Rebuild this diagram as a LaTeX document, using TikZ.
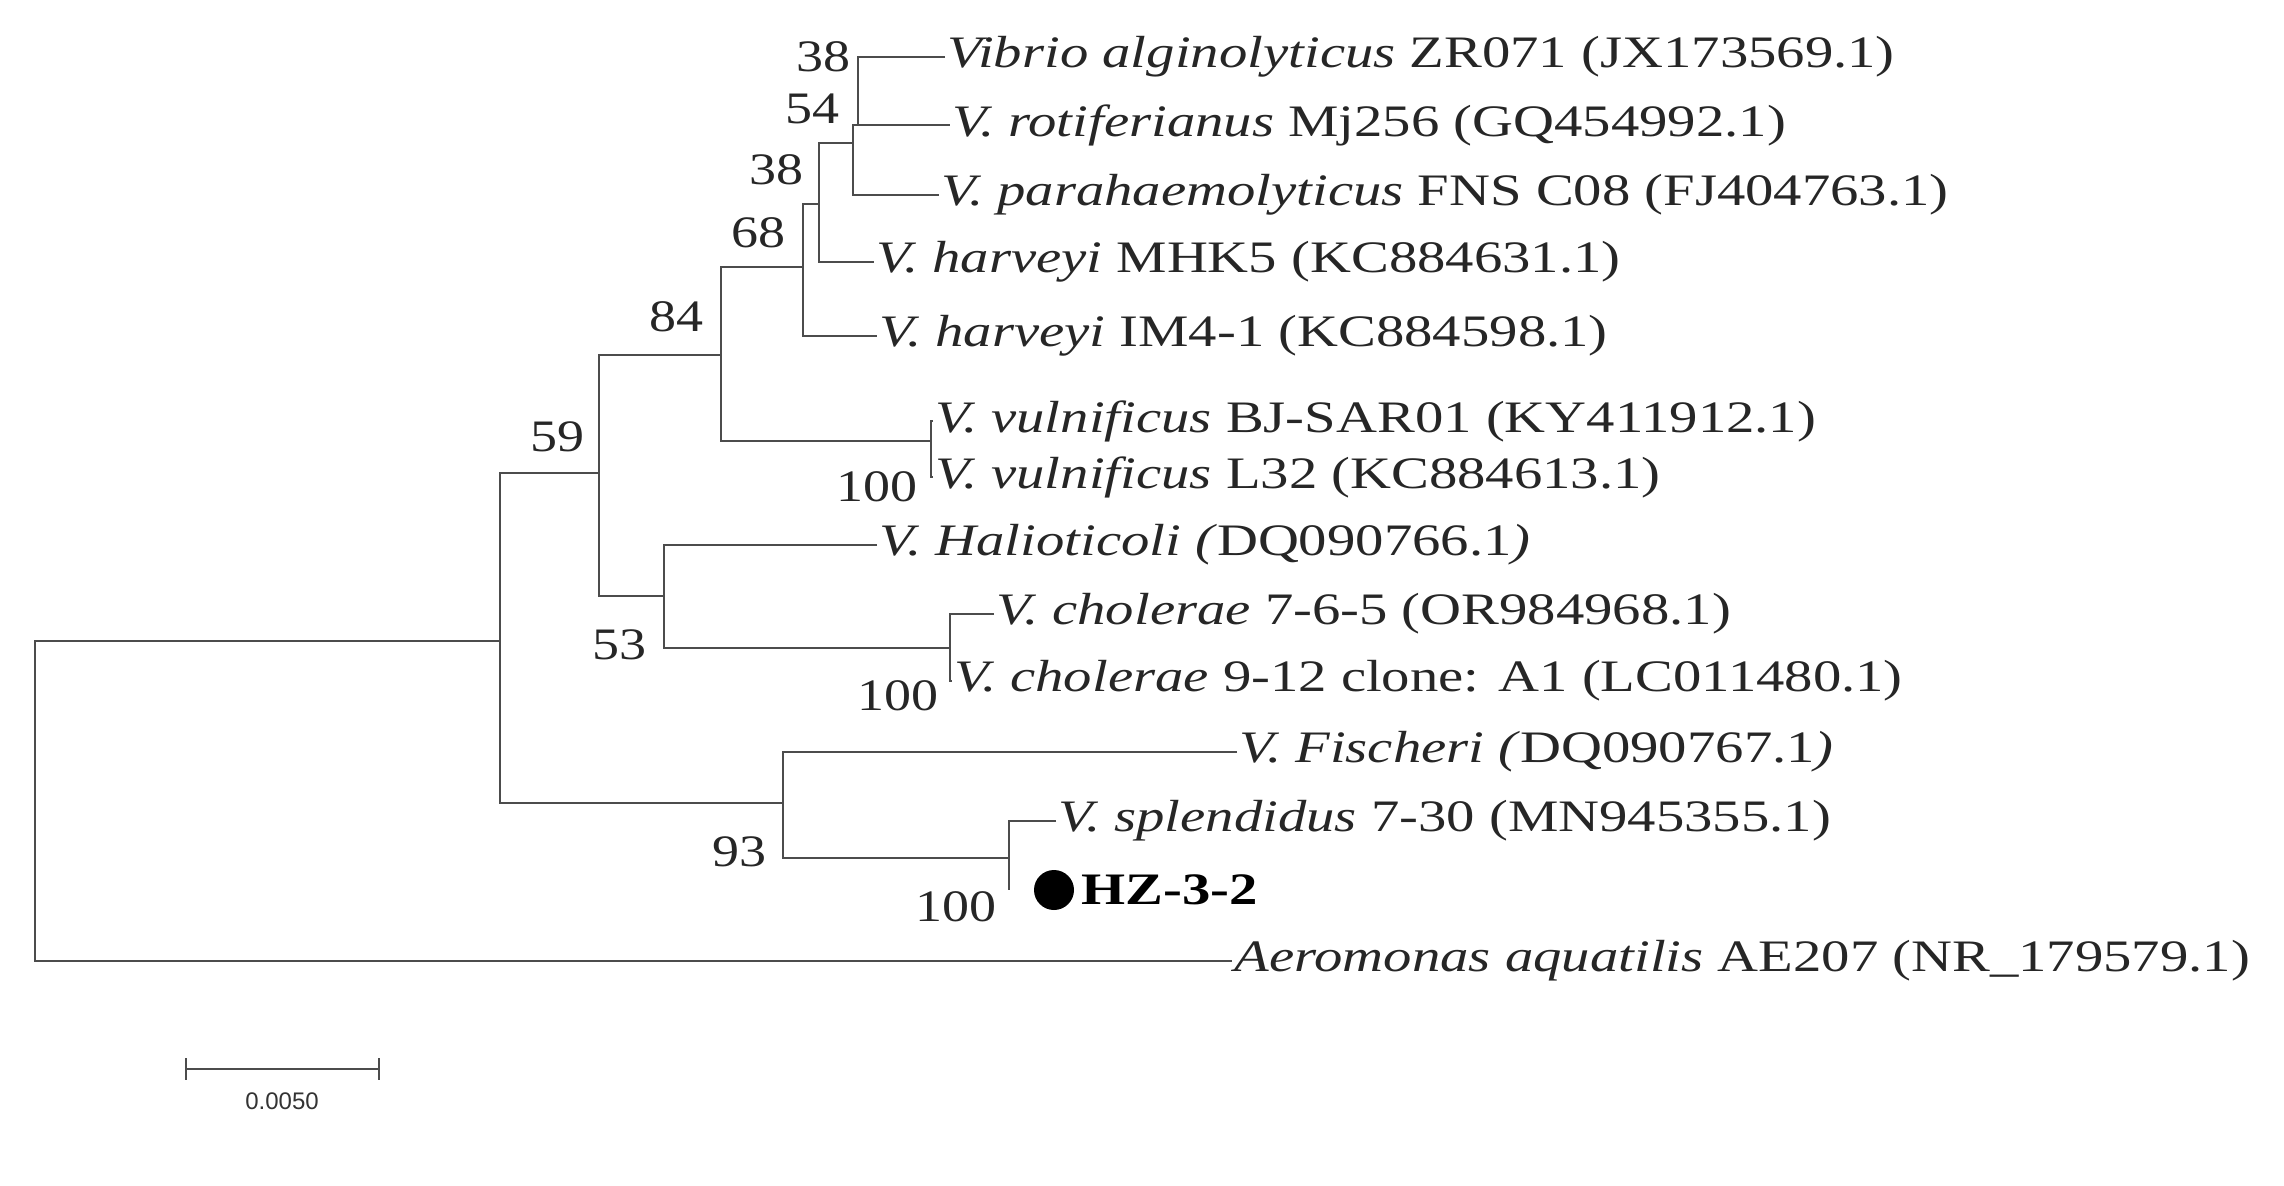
\documentclass[tikz,border=0pt]{standalone}
\usepackage{fontspec}
\setmainfont{Liberation Serif}
\setsansfont{Liberation Sans}
\usetikzlibrary{calc}
\begin{document}
\begin{tikzpicture}[x=1pt,y=-1pt,
  br/.style={draw=black!70,line width=2.8pt},
  lf/.style={anchor=west,inner sep=2pt,xscale=1.26,text=black!85,font=\fontsize{45}{45}\selectfont},
  bs/.style={anchor=east,inner sep=1pt,xscale=1.2,text=black!85,font=\fontsize{45}{45}\selectfont}]
\useasboundingbox (0,0) rectangle (2284,1186);
% attachment points of internal nodes
\coordinate (R) at (35,641);
\coordinate (A) at (500,641);
\coordinate (B) at (599,473);
\coordinate (K) at (783,803);
\coordinate (C) at (721,355);
\coordinate (D) at (664,596);
\coordinate (E) at (803,267);
\coordinate (Vu) at (931,441);
\coordinate (F) at (819,204);
\coordinate (G) at (853,143);
\coordinate (H) at (858,125);
\coordinate (Ch) at (950,648);
\coordinate (L) at (1009,858);
% leaves
\node[lf] (l1) at (945,57) {\textit{Vibrio alginolyticus} ZR071 (JX173569.1)};
\node[lf] (l2) at (950,125) {\textit{V. rotiferianus} Mj256 (GQ454992.1)};
\node[lf] (l3) at (939,195) {\textit{V. parahaemolyticus} FNS C08 (FJ404763.1)};
\node[lf] (l4) at (874,262) {\textit{V. harveyi} MHK5 (KC884631.1)};
\node[lf] (l5) at (877,336) {\textit{V. harveyi} IM4-1 (KC884598.1)};
\node[lf] (l6) at (933,421) {\textit{V. vulnificus} BJ-SAR01 (KY411912.1)};
\node[lf] (l7) at (933,477) {\textit{V. vulnificus} L32 (KC884613.1)};
\node[lf] (l8) at (877,545) {\textit{V. Halioticoli (}DQ090766.1\textit{)}};
\node[lf] (l9) at (994,614) {\textit{V. cholerae} 7-6-5 (OR984968.1)};
\node[lf] (l10) at (952,681) {\textit{V. cholerae} 9-12 clone: A1 (LC011480.1)};
\node[lf] (l11) at (1237,752) {\textit{V. Fischeri (}DQ090767.1\textit{)}};
\node[lf] (l12) at (1056,821) {\textit{V. splendidus} 7-30 (MN945355.1)};
\node[lf,text=black] (l13) at (1079,890) {\textbf{HZ-3-2}};
\node[lf] (l14) at (1232,961) {\textit{Aeromonas aquatilis} AE207 (NR\_179579.1)};
\fill (1054,890) circle (20);
% branches
\draw[br] (A) -- (R) |- (l14.west);
\draw[br] (B) -| (A) |- (K);
\draw[br] (C) -| (B) |- (D);
\draw[br] (E) -| (C) |- (Vu);
\draw[br] (F) -| (E) |- (l5.west);
\draw[br] (G) -| (F) |- (l4.west);
\draw[br] (H) -| (G) |- (l3.west);
\draw[br] (l1.west) -| (H) -- (l2.west);
\draw[br] (l6.west) -| (Vu) |- (l7.west);
\draw[br] (l8.west) -| (D) |- (Ch);
\draw[br] (l9.west) -| (Ch) |- (l10.west);
\draw[br] (l11.west) -| (K) |- (L);
\draw[br] (l12.west) -| (L) -- ++(0,32);
% bootstrap
\node[bs] (b1) at (852,57) {38};
\node[bs] (b2) at (841,109) {54};
\node[bs] (b3) at (805,170) {38};
\node[bs] (b4) at (787,233) {68};
\node[bs] (b5) at (705,317) {84};
\node[bs] (b6) at (586,437) {59};
\node[bs] (b7) at (648,645) {53};
\node[bs] (b8) at (919,487) {100};
\node[bs] (b9) at (940,696) {100};
\node[bs] (b10) at (768,852) {93};
\node[bs] (b11) at (998,907) {100};
% scale bar
\coordinate (s1) at (186,1069);
\coordinate (s2) at (379,1069);
\draw[br,line width=2.2pt] (s1) -- (s2);
\draw[br,line width=2.2pt] ($(s1)+(0,-11)$) -- ($(s1)+(0,11)$);
\draw[br,line width=2.2pt] ($(s2)+(0,-11)$) -- ($(s2)+(0,11)$);
\node[font=\sffamily\fontsize{24}{24}\selectfont,text=black!80] (sl) at (282,1101) {0.0050};
\end{tikzpicture}
\end{document}
